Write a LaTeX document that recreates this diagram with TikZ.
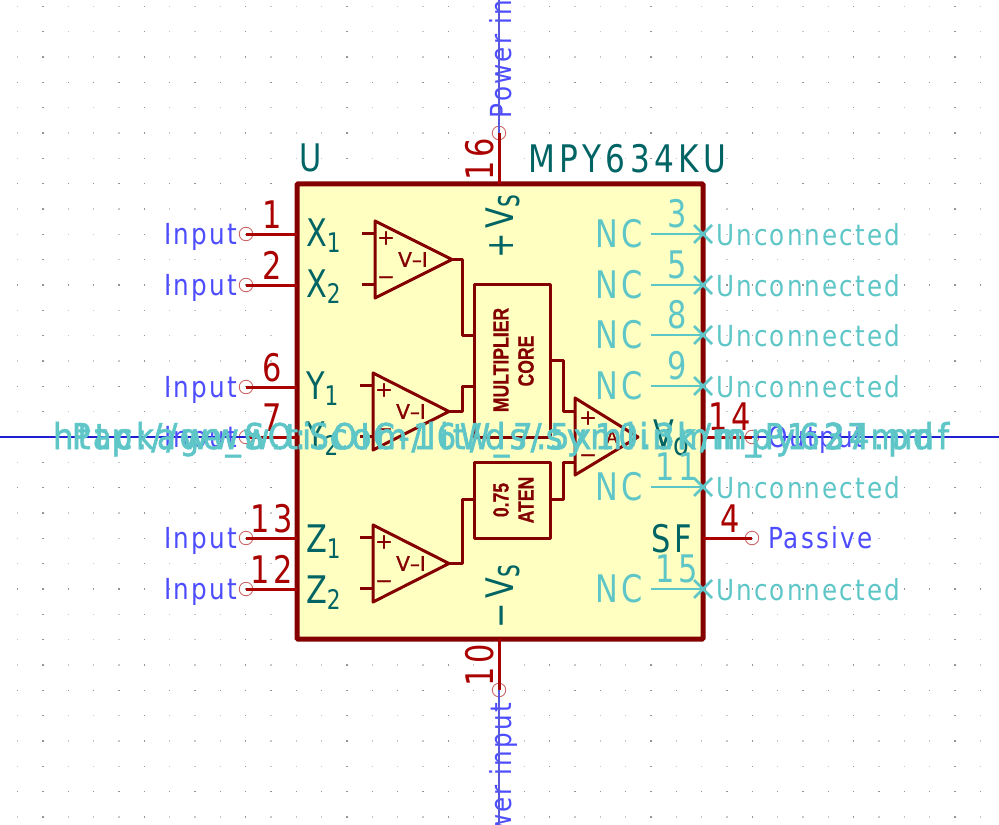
\documentclass[tikz,border=0pt]{standalone}
\usepackage{fontspec}
\setmainfont{DejaVu Sans}
\newfontfamily\bigf[FakeStretch=0.8,LetterSpace=10]{DejaVu Sans}
\newfontfamily\wideF[FakeStretch=0.82,LetterSpace=12]{DejaVu Sans}
\newfontfamily\subf[FakeStretch=0.8]{DejaVu Sans}
\newfontfamily\narrowf[FakeStretch=0.65]{DejaVu Sans}
\newfontfamily\labf[FakeStretch=0.85,LetterSpace=7.5]{DejaVu Sans}
\newfontfamily\coref[FakeStretch=0.8,FakeBold=0.6]{Liberation Sans Bold}
\newfontfamily\ampf[FakeBold=1.2]{DejaVu Sans}
\newfontfamily\ovf[FakeStretch=0.8,LetterSpace=10,FakeBold=1.6]{DejaVu Sans}
\definecolor{kbody}{HTML}{840000}
\definecolor{kfill}{HTML}{FFFFC2}
\definecolor{kname}{HTML}{006464}
\definecolor{knum}{HTML}{A90000}
\definecolor{kblue}{HTML}{4D4DFF}
\definecolor{kcyan}{HTML}{5FC6C8}
\definecolor{kwire}{HTML}{2020D0}
\newcommand{\sz}[1]{\fontsize{#1bp}{#1bp}\selectfont}
\newcommand{\sbs}[1]{{\subf\sz{27}\raisebox{-6bp}{#1}}}
\tikzset{
  txt/.style={inner sep=0pt,outer sep=0pt},
  pinname/.style={txt,anchor=base west,text=kname,font=\bigf\sz{38}},
  pinnum/.style={txt,anchor=base,text=knum,font=\bigf\sz{38}},
  nclabel/.style={txt,anchor=base west,text=kcyan,font=\bigf\sz{38}},
  ncnum/.style={txt,anchor=base,text=kcyan,font=\bigf\sz{38}},
  typeblue/.style={txt,text=kblue,font=\labf\sz{29}},
  typecyan/.style={txt,anchor=base west,text=kcyan,font=\labf\sz{29}},
  pinline/.style={draw=knum,line width=3bp},
  ncline/.style={draw=kcyan,line width=2.8bp},
  endcirc/.style={circle,draw=knum!60!white,line width=0.9bp,minimum size=13.5bp,inner sep=0pt},
  wire/.style={draw=kwire,line width=1.3bp},
  inner/.style={draw=kbody,line width=3bp,line join=round},
  corebox/.style={inner,fill=none,inner sep=0pt,minimum width=76bp},
  coretext/.style={txt,text=kbody,rotate=90,font=\coref\sz{22}},
  ampmark/.style={txt,text=kbody,font=\ampf\sz{21}},
  amplabel/.style={txt,text=kbody,font=\ampf\sz{20}},
  overlay text/.style={txt,anchor=base,text=kcyan,font=\ovf\sz{36}},
}
\begin{document}
\begin{tikzpicture}[x=1bp,y=-1bp]
\path[use as bounding box,clip] (0,0) rectangle (999,825);
% grid
\foreach \i in {-20,...,20}{\foreach \j in {-17,...,16}{
  \pgfmathtruncatemacro{\dk}{(mod(abs(\i),4)==2 || mod(abs(\j),4)==2) ? 1 : 0}
  \ifnum\dk=1 \def\gc{black!42}\else\def\gc{black!22}\fi
  \fill[\gc] ({499+25.33*\i-0.7},{437+25.33*\j-0.7}) rectangle ++(1.4,1.4);
}}
% coordinates of pin ends on the body
\foreach \n/\y in {1/234,2/285,6/387,7/437,13/538,12/589}{
  \coordinate (b\n) at (297,\y);
  \node[endcirc] (c\n) at (246,\y) {};
}
\foreach \n/\y in {14/437,4/538}{
  \coordinate (b\n) at (703,\y);
  \node[endcirc] (c\n) at (752,\y) {};
}
\coordinate (b16) at (499,184);
\node[endcirc] (c16) at (499,133) {};
\coordinate (b10) at (499,639);
\node[endcirc] (c10) at (499,690) {};
% wires
\coordinate (wl) at (0,437);
\coordinate (wr) at (999,437);
\coordinate (wt) at (499,0);
\coordinate (wb) at (499,825);
\draw[wire] (wl) -- (c7.center);
\draw[wire] (c14.center) -- (wr);
% body
\node[draw=kbody,fill=kfill,line width=5bp,rounded corners=1bp,inner sep=0pt,minimum width=406bp,minimum height=455bp] (U) at (500,411.5) {};
% power labels under the wires
\node[typeblue,anchor=base west,rotate=90] (pwrt) at (511,118) {Power input};
\node[typeblue,anchor=base east,rotate=90] (pwrb) at (511,703) {Power input};
\draw[wire,draw=kwire!75!white] (wt) -- (c16.center);
\draw[wire,draw=kwire!75!white] (c10.center) -- (wb);
% pins
\foreach \n in {1,2,6,7,13,12,14,4,16,10}{
  \draw[pinline] (b\n) -- (c\n.center);
}
% pin type labels
\foreach \n/\y in {1/234,2/285,6/387,7/437,13/538,12/589}{
  \node[typeblue,anchor=base east] (ty\n) at (237,\y+10) {Input};
}
\node[typeblue,anchor=base west] (ty14) at (768,447) {Output};
\node[typeblue,anchor=base west] (ty4) at (768,548) {Passive};
% pin numbers
\foreach \n/\y in {1/234,2/285,6/387,7/437,13/538,12/589}{
  \node[pinnum] (n\n) at (272,\y-6) {\n};
}
\node[pinnum] (n14) at (730,430) {14};
\node[pinnum] (n4) at (730,532) {4};
\node[pinnum,rotate=90] (n16) at (493,159) {16};
\node[pinnum,rotate=90] (n10) at (493,665) {10};
% pin names
\node[pinname] (nX1) at (306,246) {X\sbs{1}};
\node[pinname] (nX2) at (306,297) {X\sbs{2}};
\node[pinname] (nY1) at (306,399) {Y\sbs{1}};
\node[pinname] (nY2) at (306,449) {Y\sbs{2}};
\node[pinname] (nZ1) at (306,552) {Z\sbs{1}};
\node[pinname] (nZ2) at (306,603) {Z\sbs{2}};
\node[pinname,rotate=90] (nVp) at (513,258) {+V{\narrowf\raisebox{-6bp}{s}}};
\node[pinname,rotate=90] (nVm) at (513,628) {−V{\narrowf\raisebox{-6bp}{s}}};
\node[pinname] (nVo) at (653,447) {V{\subf\sz{32}\raisebox{-8bp}{o}}};
\node[pinname] (nSF) at (651,552) {SF};
% refs
\node[pinname] (ref) at (299,171) {U};
\node[pinname,font=\wideF\sz{38}] (val) at (528,172) {MPY634KU};
% amplifiers
\foreach \a/\xx/\yt/\tipx in {x/375/221/452,y/373/373/449,z/373/525/449}{
  \coordinate (\a t) at (\xx,\yt);
  \coordinate (\a b) at (\xx,\yt+77);
  \coordinate (\a o) at (\tipx,\yt+38.5);
  \coordinate (\a p) at (\xx,\yt+12.7);
  \coordinate (\a m) at (\xx,\yt+63.5);
  \coordinate (\a ps) at (\xx-13.5,\yt+12.7);
  \coordinate (\a ms) at (\xx-13.5,\yt+63.5);
  \draw[inner] (\a t) -- (\a o) -- (\a b) -- cycle;
  \draw[inner] (\a ps) -- (\a p);
  \draw[inner] (\a ms) -- (\a m);
  \node[ampmark] (\a plus) at (\xx+11,\yt+17) {+};
  \node[ampmark] (\a minus) at (\xx+11,\yt+59) {−};
  \node[amplabel] (\a vi) at (\xx+38,\yt+38.5) {V–I};
}
% core boxes
\node[corebox,minimum height=153bp] (mult) at (512,360.5) {};
\node[corebox,minimum height=76bp] (aten) at (512,500) {};
\node[coretext] (tm1) at (501,360) {MULTIPLIER};
\node[coretext] (tm2) at (526,361) {CORE};
\node[coretext] (ta1) at (501,500) {0.75};
\node[coretext] (ta2) at (526,500) {ATEN};
% output amplifier
\coordinate (at) at (575,398);
\coordinate (ab) at (575,475);
\coordinate (ao) at (638,437);
\coordinate (ap) at (575,411);
\coordinate (am) at (575,462);
\draw[inner] (at) -- (ao) -- (ab) -- cycle;
\node[ampmark] (aplus) at (588,418) {+};
\node[ampmark] (aminus) at (588,458) {−};
\node[amplabel,font=\ampf\sz{17}] (alab) at (612,437) {A};
% internal connections
\coordinate (mx) at (474,335);
\coordinate (my) at (474,386);
\coordinate (mo) at (550,360);
\coordinate (ai) at (474,499);
\coordinate (ae) at (550,499);
\draw[inner] (xo) -- ++(10,0) |- (mx);
\draw[inner] (yo) -- ++(13,0) |- (my);
\draw[inner] (zo) -- ++(13,0) |- (ai);
\draw[inner] (mo) -- ++(13,0) |- (ap);
\draw[inner] (ae) -- ++(13,0) |- (am);
% NC pins
\foreach \n/\y in {3/234,5/285,8/335,9/386,11/487,15/589}{
  \coordinate (s\n) at (651,\y);
  \coordinate (e\n) at (703,\y);
  \draw[ncline] (s\n) -- (e\n);
  \draw[ncline] ([shift={(-9,-9)}]e\n) -- ([shift={(9,9)}]e\n);
  \draw[ncline] ([shift={(-9,9)}]e\n) -- ([shift={(9,-9)}]e\n);
  \node[nclabel] (nc\n) at (595,\y+13) {NC};
  \node[ncnum] (nn\n) at (677,\y-7) {\n};
  \node[typecyan] (un\n) at (716,\y+11) {Unconnected};
}
% overlaid field texts
\node[overlay text,anchor=base west] (fp) at (72,449) {\resizebox{862bp}{27bp}{Package\_SO:SOIC-16W\_7.5x10.3mm\_P1.27mm}};
\node[overlay text,anchor=base west] (ds) at (53,449) {\resizebox{896bp}{27bp}{http://www.ti.com/lit/ds/symlink/mpy634.pdf}};
\end{tikzpicture}
\end{document}
